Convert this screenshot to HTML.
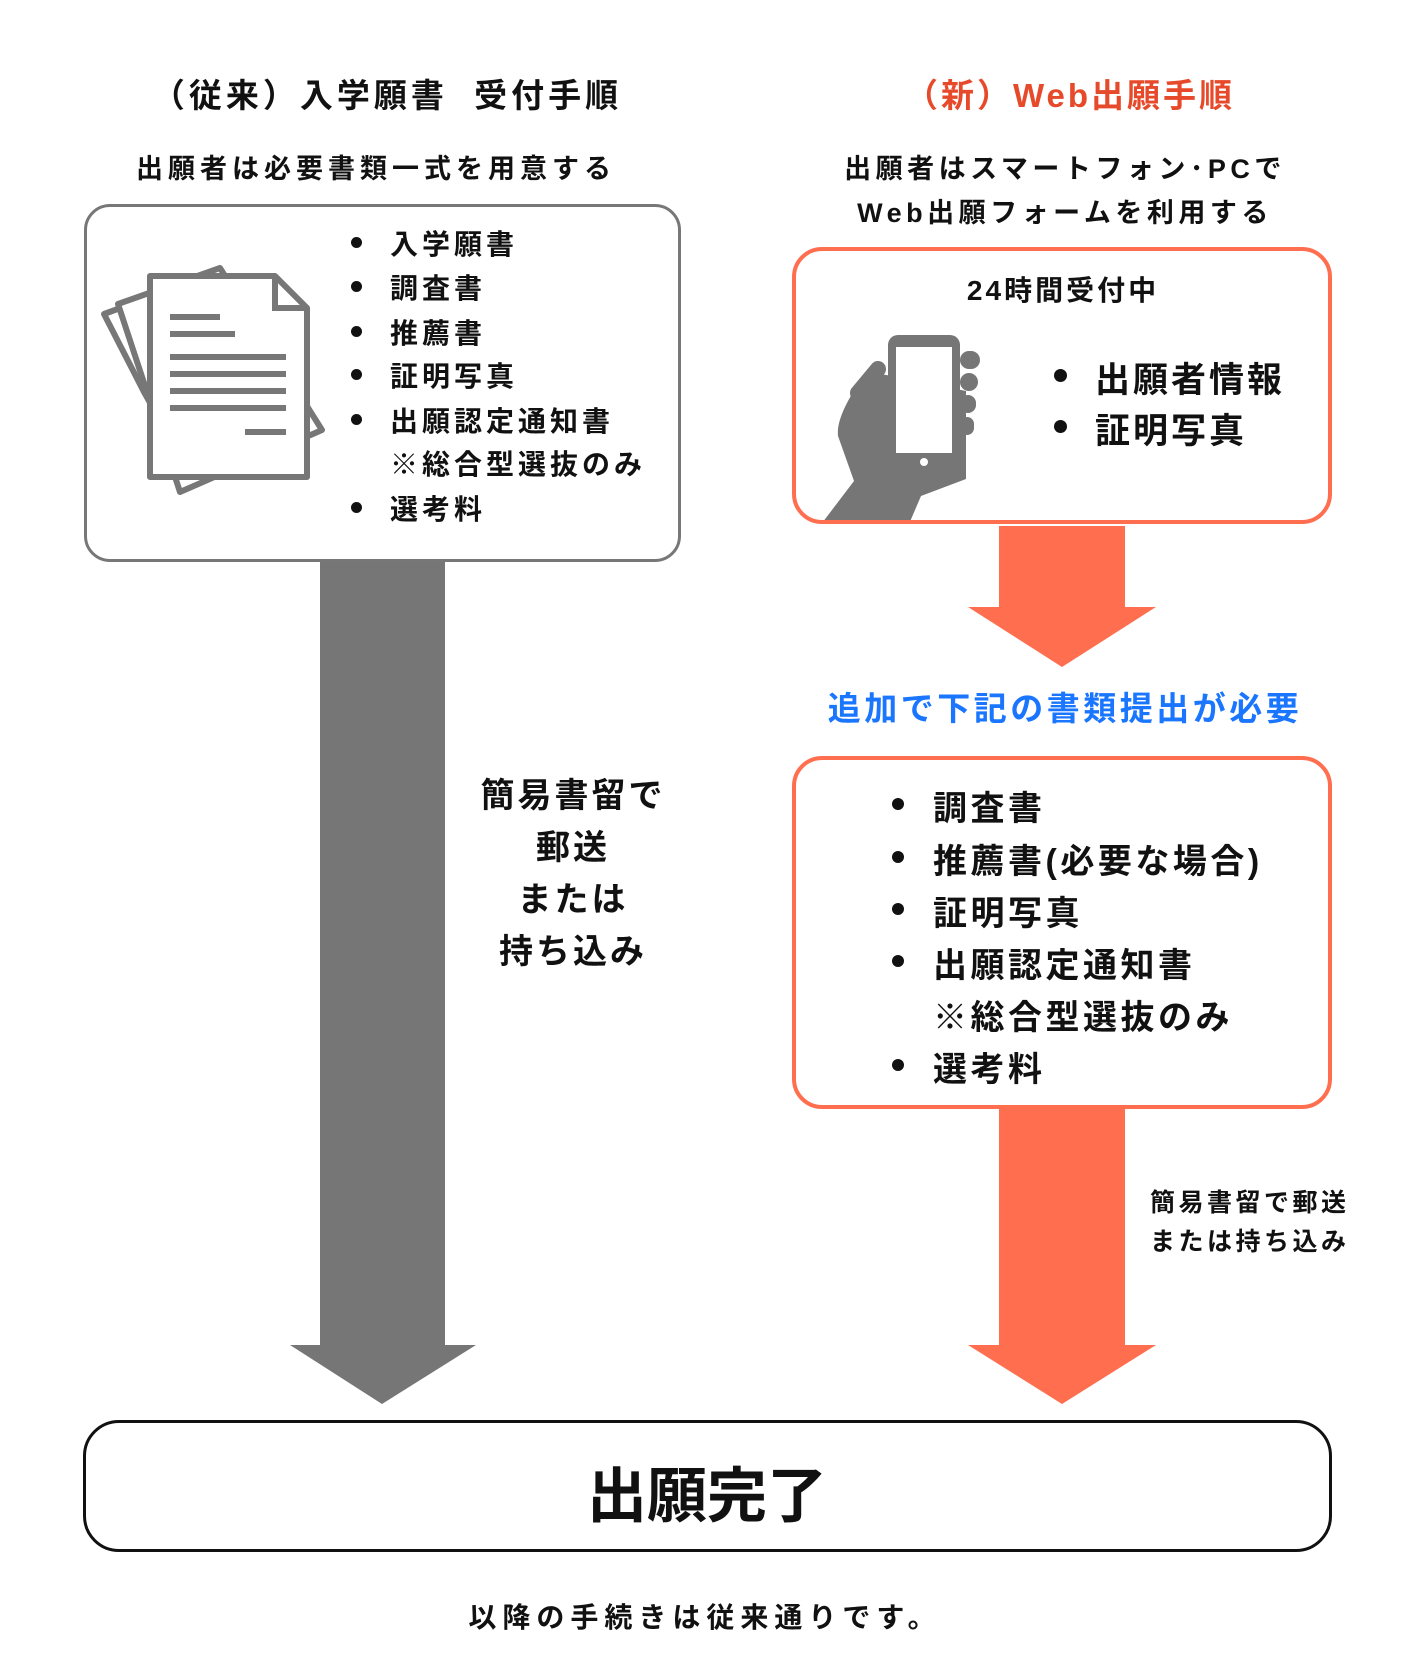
<!DOCTYPE html>
<html><head><meta charset="utf-8"><style>
body{margin:0;width:1414px;height:1666px;background:#fff;position:relative;overflow:hidden;font-family:"Liberation Sans","Noto Sans CJK JP",sans-serif;font-weight:bold;color:#111}
.a{position:absolute;white-space:nowrap}
.c{transform:translateX(-50%);text-align:center}
.box{position:absolute;box-sizing:border-box;background:#fff}
.dot{position:absolute;width:11px;height:11px;border-radius:50%;background:#111}
</style></head><body>
<div class="a c" style="left:387px;top:69px;font-size:33px;letter-spacing:4px">（従来）入学願書&nbsp;&nbsp;受付手順</div>
<div class="a c" style="left:376px;top:147px;font-size:27px;letter-spacing:5px">出願者は必要書類一式を用意する</div>
<div class="a c" style="left:1070px;top:69px;font-size:33px;color:#e64a2a;letter-spacing:3px">（新）Web出願手順</div>
<div class="a c" style="left:1065px;top:147px;font-size:27px;line-height:44px;letter-spacing:4.5px">出願者はスマートフォン･PCで<br>Web出願フォームを利用する</div>

<svg class="a" style="left:0;top:0" width="1414" height="1666">
<polygon points="320,555 445,555 445,1345 476,1345 382,1404 290,1345 320,1345" fill="#767676"/>
<polygon points="999,526 1125,526 1125,607 1156,607 1062,667 968,607 999,607" fill="#ff6e4f"/>
<polygon points="999,1108 1125,1108 1125,1345 1156,1345 1062,1404 968,1345 999,1345" fill="#ff6e4f"/>
</svg>

<div class="box" style="left:84px;top:204px;width:597px;height:358px;border:3px solid #777;border-radius:26px"></div>
<svg class="a" style="left:100px;top:262px" width="235" height="235" viewBox="0 0 235 235">
<g fill="#fff" stroke="#777" stroke-width="6" stroke-linejoin="round">
<polygon points="4,52 118,10 200,150 90,212 44,130"/>
<polygon points="18,42 120,6 222,168 80,230"/>
<polygon points="50,14 175,14 207,46 207,215 50,215"/>
</g>
<g stroke="#777" stroke-width="6">
<line x1="70" y1="55" x2="120" y2="55"/><line x1="70" y1="72" x2="135" y2="72"/>
<line x1="70" y1="95" x2="186" y2="95"/><line x1="70" y1="112" x2="186" y2="112"/>
<line x1="70" y1="129" x2="186" y2="129"/><line x1="70" y1="146" x2="186" y2="146"/>
<line x1="145" y1="170" x2="186" y2="170"/>
<polyline points="175,14 175,46 207,46" fill="none"/>
</g></svg>
<div style="position:absolute;left:0;top:0;letter-spacing:4px">
<div class="dot" style="left:351px;top:237px"></div><div class="a" style="left:390px;top:223px;font-size:28px">入学願書</div>
<div class="dot" style="left:351px;top:281px"></div><div class="a" style="left:390px;top:267px;font-size:28px">調査書</div>
<div class="dot" style="left:351px;top:326px"></div><div class="a" style="left:390px;top:312px;font-size:28px">推薦書</div>
<div class="dot" style="left:351px;top:369px"></div><div class="a" style="left:390px;top:355px;font-size:28px">証明写真</div>
<div class="dot" style="left:351px;top:414px"></div><div class="a" style="left:390px;top:400px;font-size:28px">出願認定通知書</div>
<div class="a" style="left:390px;top:443px;font-size:28px">※総合型選抜のみ</div>
<div class="dot" style="left:351px;top:502px"></div><div class="a" style="left:390px;top:488px;font-size:28px">選考料</div>
</div>

<div class="a c" style="left:573px;top:770px;font-size:34px;line-height:52px;letter-spacing:3px">簡易書留で<br>郵送<br>または<br>持ち込み</div>

<div class="box" style="left:792px;top:247px;width:540px;height:277px;border:4px solid #ff6e4f;border-radius:30px;overflow:hidden">
<svg class="a" style="left:20px;top:80px" width="200" height="200" viewBox="0 0 200 200">
<path d="M50,40 C38,60 20,85 22,105 L38,150 L0,200 L90,200 L105,165 L150,148 L150,60 Z" fill="#767676"/>
<rect x="72" y="4" width="72" height="138" rx="10" fill="#767676"/>
<rect x="80" y="16" width="56" height="106" fill="#fff"/>
<circle cx="108" cy="131" r="4" fill="#fff"/>
<rect x="144" y="20" width="20" height="18" rx="9" fill="#767676"/><rect x="144" y="42" width="18" height="18" rx="9" fill="#767676"/>
<rect x="144" y="64" width="16" height="18" rx="8" fill="#767676"/><rect x="144" y="86" width="14" height="18" rx="7" fill="#767676"/>
<path d="M62,38 L42,62" stroke="#767676" stroke-width="16" stroke-linecap="round"/>
</svg></div>
<div class="a c" style="left:1063px;top:269px;font-size:28px;letter-spacing:3px">24時間受付中</div>
<div class="dot" style="left:1054px;top:369px;width:13px;height:13px"></div><div class="a" style="left:1095px;top:352px;font-size:35px;letter-spacing:3px">出願者情報</div>
<div class="dot" style="left:1054px;top:420px;width:13px;height:13px"></div><div class="a" style="left:1095px;top:403px;font-size:35px;letter-spacing:3px">証明写真</div>

<div class="a c" style="left:1065px;top:682px;font-size:33px;color:#1a75ff;letter-spacing:3.5px">追加で下記の書類提出が必要</div>

<div class="box" style="left:792px;top:756px;width:540px;height:353px;border:4px solid #ff6e4f;border-radius:30px"></div>
<div style="position:absolute;left:0;top:0;letter-spacing:3.5px">
<div class="dot" style="left:892px;top:798px;width:12px;height:12px"></div><div class="a" style="left:933px;top:781px;font-size:34px">調査書</div>
<div class="dot" style="left:892px;top:851px;width:12px;height:12px"></div><div class="a" style="left:933px;top:834px;font-size:34px">推薦書(必要な場合)</div>
<div class="dot" style="left:892px;top:903px;width:12px;height:12px"></div><div class="a" style="left:933px;top:886px;font-size:34px">証明写真</div>
<div class="dot" style="left:892px;top:955px;width:12px;height:12px"></div><div class="a" style="left:933px;top:938px;font-size:34px">出願認定通知書</div>
<div class="a" style="left:933px;top:990px;font-size:34px">※総合型選抜のみ</div>
<div class="dot" style="left:892px;top:1059px;width:12px;height:12px"></div><div class="a" style="left:933px;top:1042px;font-size:34px">選考料</div>
</div>

<div class="a" style="left:1150px;top:1184px;font-size:25px;line-height:39px;letter-spacing:3.5px">簡易書留で郵送<br>または持ち込み</div>

<div class="box" style="left:83px;top:1420px;width:1249px;height:132px;border:3px solid #111;border-radius:36px"></div>
<div class="a c" style="left:707px;top:1448px;font-size:60px">出願完了</div>
<div class="a c" style="left:705px;top:1596px;font-size:28px;letter-spacing:6px">以降の手続きは従来通りです。</div>
</body></html>
